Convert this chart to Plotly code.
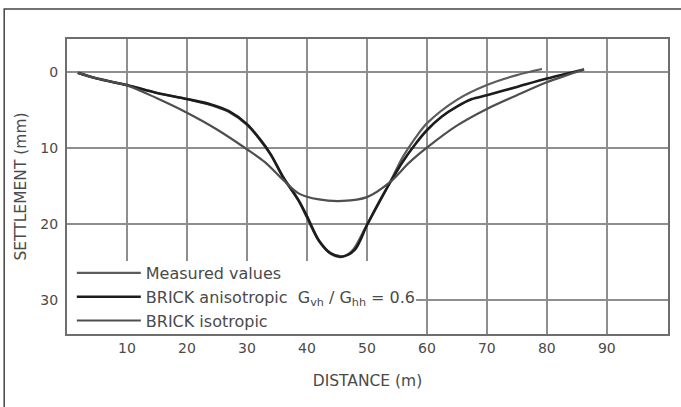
import plotly.graph_objects as go

# ---- data ----
dist_measured = [1.8, 5, 10, 15, 20, 24, 27, 30, 32, 34, 36, 38.6, 40, 42, 44, 45.6, 47.5,
                 49.7, 52, 54, 56, 58, 60, 65, 70, 75, 79.2]
settle_measured = [0.15, 0.9, 1.8, 2.8, 3.6, 4.4, 5.3, 7.0, 8.8, 11.0, 13.9, 17.0, 19.2, 22.3,
                   24.0, 24.4, 23.6, 20.6, 17.3, 14.3, 11.2, 8.8, 6.8, 3.7, 1.75, 0.45, -0.35]

dist_aniso = [1.8, 5, 10, 15, 20, 24, 27, 30, 32, 34, 36, 38.6, 40, 42, 44, 46, 48, 50, 52,
              54, 56, 58, 60, 62.5, 65, 67.5, 70, 75, 80, 86.2]
settle_aniso = [0.15, 0.9, 1.75, 2.8, 3.6, 4.3, 5.2, 6.9, 8.7, 10.9, 13.8, 16.9, 19.0, 22.2,
                23.9, 24.3, 23.4, 20.2, 17.2, 14.4, 11.8, 9.6, 7.7, 5.9, 4.6, 3.6, 3.1,
                2.0, 0.9, -0.3]

dist_iso = [1.8, 5, 10, 15, 20, 25, 30, 33, 36, 38.6, 42, 46, 50, 53.9, 57, 60, 65, 70,
            75, 80, 86.2]
settle_iso = [0.15, 0.9, 1.8, 3.5, 5.4, 7.6, 10.2, 11.9, 14.2, 16.0, 16.8, 17.0, 16.5,
              14.5, 12.0, 10.0, 7.1, 4.9, 3.1, 1.4, -0.3]

x_ticks = [10, 20, 30, 40, 50, 60, 70, 80, 90]
y_ticks = [0, 10, 20, 30]

names = ["Measured values",
         "BRICK anisotropic  G<sub>vh</sub> / G<sub>hh</sub> = 0.6",
         "BRICK isotropic"]

# white panel behind the legend (in data units of the axes)
legend_panel_x = [0, 58.2]
legend_panel_y = [24.9, 34.5]

FONT = "DejaVu Sans"
TXT = "#4a4a4a"

fig = go.Figure()
fig.add_trace(go.Scatter(x=dist_measured, y=settle_measured, mode="lines", name=names[0],
                         line=dict(color="#5c5c5c", width=2.2, shape="spline", smoothing=0.9),
                         legendgroup="a"))
fig.add_trace(go.Scatter(x=dist_aniso, y=settle_aniso, mode="lines", name=names[1],
                         line=dict(color="#1c1c1c", width=2.6, shape="spline", smoothing=0.9),
                         legendgroup="b"))
fig.add_trace(go.Scatter(x=dist_iso, y=settle_iso, mode="lines", name=names[2],
                         line=dict(color="#4e4e4e", width=2.2, shape="spline", smoothing=0.9),
                         legendgroup="c"))

fig.update_layout(
    width=681, height=407,
    margin=dict(l=67, r=11, t=39, b=73),
    paper_bgcolor="white", plot_bgcolor="white",
    font=dict(family=FONT, color=TXT),
    showlegend=True,
    legend=dict(x=0.008, y=-0.0135, xanchor="left", yanchor="bottom",
                bgcolor="rgba(0,0,0,0)", borderwidth=0,
                font=dict(family=FONT, size=16, color=TXT),
                itemwidth=64, tracegroupgap=3, traceorder="normal"),
    shapes=[
        dict(type="rect", xref="x", yref="y",
             x0=legend_panel_x[0], x1=legend_panel_x[1],
             y0=legend_panel_y[0], y1=legend_panel_y[1],
             fillcolor="white", line=dict(width=0), layer="between"),
        dict(type="rect", xref="paper", yref="paper",
             x0=-0.1045, x1=1.3, y0=-0.5, y1=1.1017,
             line=dict(color="#444444", width=1.5), layer="above"),
    ],
)
fig.update_xaxes(range=[0, 100.2], tickvals=x_ticks, showgrid=True,
                 gridcolor="#8e8e8e", gridwidth=1.5, zeroline=False,
                 showline=True, mirror=True, linecolor="#6e6e6e", linewidth=2,
                 ticks="", tickfont=dict(size=14, color=TXT, family=FONT),
                 title=dict(text="DISTANCE (m)", font=dict(size=15.5, color=TXT, family=FONT),
                            standoff=20))
fig.update_yaxes(range=[34.5, -4.3], tickvals=y_ticks, showgrid=True,
                 gridcolor="#8e8e8e", gridwidth=1.5, zeroline=False,
                 showline=True, mirror=True, linecolor="#6e6e6e", linewidth=2,
                 ticks="", ticklabelstandoff=4,
                 tickfont=dict(size=14, color=TXT, family=FONT),
                 title=dict(text="SETTLEMENT (mm)", font=dict(size=15.5, color=TXT, family=FONT),
                            standoff=10))

fig.write_html("out.html")
